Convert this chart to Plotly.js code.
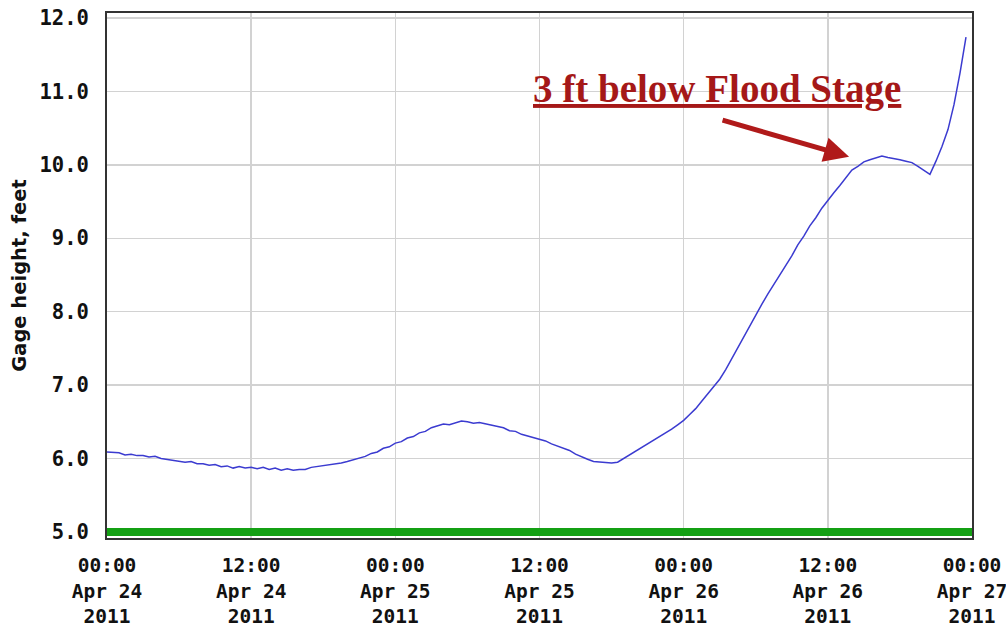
<!DOCTYPE html>
<html>
<head>
<meta charset="utf-8">
<script src="https://cdn.plot.ly/plotly-3.0.1.min.js"></script>
<style>html,body{margin:0;padding:0;background:#fff;}#chart{width:1006px;height:631px;}</style>
</head>
<body>
<div id="chart"></div>
<script>
// Gage height readings, every 30 minutes from 2011-04-24 00:00
const startTime = '2011-04-24T00:00:00Z';
const stepMinutes = 30;
const gageHeight = [
  6.09, 6.08, 6.08, 6.05, 6.06, 6.04, 6.04, 6.02, 6.03, 6.00,
  5.99, 5.98, 5.97, 5.95, 5.96, 5.93, 5.93, 5.91, 5.92, 5.89,
  5.90, 5.87, 5.89, 5.87, 5.88, 5.86, 5.88, 5.85, 5.87, 5.84,
  5.86, 5.84, 5.85, 5.85, 5.88, 5.89, 5.90, 5.91, 5.93, 5.94,
  5.96, 5.98, 6.01, 6.03, 6.07, 6.09, 6.14, 6.16, 6.21, 6.23,
  6.28, 6.30, 6.35, 6.37, 6.42, 6.44, 6.47, 6.46, 6.49, 6.51,
  6.50, 6.48, 6.49, 6.47, 6.46, 6.44, 6.42, 6.38, 6.37, 6.33,
  6.31, 6.29, 6.26, 6.24, 6.20, 6.17, 6.13, 6.11, 6.06, 6.02,
  5.99, 5.96, 5.95, 5.94, 5.94, 5.95, 6.00, 6.04, 6.10, 6.14,
  6.19, 6.24, 6.29, 6.34, 6.40, 6.46, 6.52, 6.60, 6.68, 6.78,
  6.88, 6.97, 7.08, 7.21, 7.36, 7.50, 7.66, 7.80, 7.97, 8.10,
  8.24, 8.37, 8.50, 8.64, 8.76, 8.91, 9.03, 9.17, 9.28, 9.41,
  9.52, 9.62, 9.72, 9.82, 9.93, 9.98, 10.04, 10.07, 10.10, 10.12,
  10.10, 10.09, 10.07, 10.05, 10.03, 9.98, 9.92, 9.87, 10.05, 10.25,
  10.48, 10.82, 11.25, 11.74
];
// Green reference line at the bottom of the chart
const baseLineX = ['2011-04-24 00:00', '2011-04-27 00:00'];
const baseLineY = [5.0, 5.0];

// Tick labels
const xTickVals = ['2011-04-24 00:00', '2011-04-24 12:00', '2011-04-25 00:00', '2011-04-25 12:00',
                   '2011-04-26 00:00', '2011-04-26 12:00', '2011-04-27 00:00'];
const xTickTime = ['00:00', '12:00', '00:00', '12:00', '00:00', '12:00', '00:00'];
const xTickDay  = ['Apr 24', 'Apr 24', 'Apr 25', 'Apr 25', 'Apr 26', 'Apr 26', 'Apr 27'];
const xTickYear = ['2011', '2011', '2011', '2011', '2011', '2011', '2011'];
const yTitle = 'Gage height, feet';
const noteText = '3 ft below Flood Stage';
const notePos = {x: '2011-04-26 02:46', y: 11.03};
const arrowTip = {x: '2011-04-26 13:46', y: 10.11};

const t0 = Date.parse(startTime);
const times = gageHeight.map((v, i) =>
  new Date(t0 + i * stepMinutes * 60000).toISOString().replace('T', ' ').slice(0, 16));
const xTickText = xTickTime.map((t, i) => t + '<br>' + xTickDay[i] + '<br>' + xTickYear[i]);

const yMonoFont = {family: 'DejaVu Sans Mono, monospace', size: 20.5, color: '#111', weight: 'bold'};
const xMonoFont = {family: 'DejaVu Sans Mono, monospace', size: 19.5, color: '#111', weight: 'bold'};

const traces = [
  {x: baseLineX, y: baseLineY, type: 'scatter', mode: 'lines',
   line: {color: '#14a014', width: 8}, hoverinfo: 'skip', showlegend: false},
  {x: times, y: gageHeight, type: 'scatter', mode: 'lines',
   line: {color: '#3b3bd0', width: 1.5}, showlegend: false}
];

const layout = {
  width: 1006, height: 631,
  margin: {l: 107, r: 34, t: 13, b: 93},
  paper_bgcolor: '#fff', plot_bgcolor: '#fff',
  showlegend: false,
  xaxis: {
    type: 'date', range: ['2011-04-24 00:00', '2011-04-27 00:00'],
    tickmode: 'array', tickvals: xTickVals, ticktext: xTickText,
    tickfont: xMonoFont, ticks: '', ticklabelstandoff: 9, ticklabeloverflow: 'allow',
    showgrid: true, gridcolor: '#d2d2d2', gridwidth: 1.5,
    showline: true, mirror: true, linecolor: '#333', linewidth: 2,
    zeroline: false
  },
  yaxis: {
    range: [4.918, 12.068], tick0: 5, dtick: 1, tickformat: '.1f',
    tickfont: yMonoFont, ticks: '', ticklabelstandoff: 12,
    showgrid: true, gridcolor: '#d2d2d2', gridwidth: 1.5,
    showline: true, mirror: true, linecolor: '#333', linewidth: 2,
    zeroline: false,
    title: {text: yTitle, standoff: 8,
            font: {family: 'DejaVu Sans, sans-serif', size: 19.5, color: '#111', weight: 'bold'}}
  },
  annotations: [
    {x: notePos.x, y: notePos.y, xref: 'x', yref: 'y', showarrow: false,
     text: '<u>' + noteText + '</u>',
     font: {family: 'Liberation Serif, serif', size: 39, color: '#a51818', weight: 'bold'}},
    {x: arrowTip.x, y: arrowTip.y, xref: 'x', yref: 'y', text: '', showarrow: true,
     ax: -128, ay: -37, arrowhead: 2, arrowsize: 1, arrowwidth: 5, arrowcolor: '#b01a1a', standoff: 0}
  ]
};

Plotly.newPlot('chart', traces, layout, {displayModeBar: false, staticPlot: true});
</script>
</body>
</html>
